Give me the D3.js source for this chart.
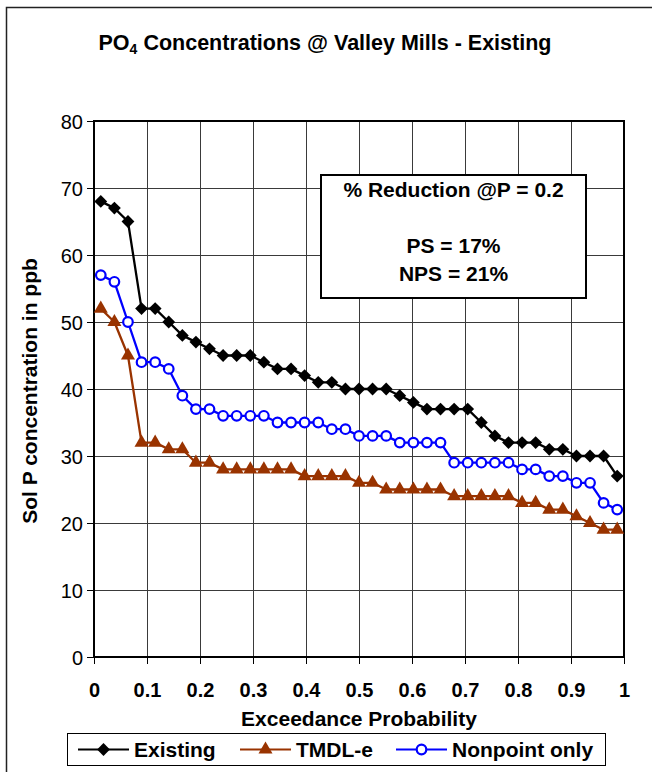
<!DOCTYPE html>
<html>
<head>
<meta charset="utf-8">
<script src="https://cdn.jsdelivr.net/npm/d3@7/dist/d3.min.js"></script>
<style>
  html, body { margin: 0; padding: 0; background: #fff; }
  svg { display: block; font-family: "Liberation Sans", Arial, sans-serif; }
</style>
</head>
<body>
<svg id="chart" width="652" height="772"></svg>
<script>
// Exceedance probability of each ranked sample (39 ranks)
const probability = [0.0128, 0.0385, 0.0641, 0.0897, 0.1154, 0.1410, 0.1667, 0.1923, 0.2179, 0.2436,
  0.2692, 0.2949, 0.3205, 0.3462, 0.3718, 0.3974, 0.4231, 0.4487, 0.4744, 0.5000,
  0.5256, 0.5513, 0.5769, 0.6026, 0.6282, 0.6538, 0.6795, 0.7051, 0.7308, 0.7564,
  0.7821, 0.8077, 0.8333, 0.8590, 0.8846, 0.9103, 0.9359, 0.9615, 0.9872];

// Soluble P concentration (ppb)
const existing = [68, 67, 65, 52, 52, 50, 48, 47, 46, 45, 45, 45, 44, 43, 43, 42, 41, 41, 40, 40,
  40, 40, 39, 38, 37, 37, 37, 37, 35, 33, 32, 32, 32, 31, 31, 30, 30, 30, 27];
const tmdlE = [52, 50, 45, 32, 32, 31, 31, 29, 29, 28, 28, 28, 28, 28, 28, 27, 27, 27, 27, 26,
  26, 25, 25, 25, 25, 25, 24, 24, 24, 24, 24, 23, 23, 22, 22, 21, 20, 19, 19];
const nonpointOnly = [57, 56, 50, 44, 44, 43, 39, 37, 37, 36, 36, 36, 36, 35, 35, 35, 35, 34, 34, 33,
  33, 33, 32, 32, 32, 32, 29, 29, 29, 29, 29, 28, 28, 27, 27, 26, 26, 23, 22];

const seriesNames = ["Existing", "TMDL-e", "Nonpoint only"];
const xTicks = [0, 0.1, 0.2, 0.3, 0.4, 0.5, 0.6, 0.7, 0.8, 0.9, 1];
const yTicks = [0, 10, 20, 30, 40, 50, 60, 70, 80];
const noteLines = ["% Reduction @P = 0.2", "", "PS = 17%", "NPS = 21%"];

const svg = d3.select("#chart");
const W = 652, H = 772;
const plot = { left: 94, right: 624, top: 121, bottom: 657 };

const x = d3.scaleLinear().domain([0, 1]).range([plot.left, plot.right]);
const y = d3.scaleLinear().domain([0, 80]).range([plot.bottom, plot.top]);

// chart area frame
svg.append("rect").attr("x", 6.5).attr("y", 7.5).attr("width", W + 20).attr("height", H + 20)
  .attr("fill", "#fff").attr("stroke", "#222").attr("stroke-width", 1.5);

// title
const title = svg.append("text").attr("x", 325).attr("y", 50).attr("text-anchor", "middle")
  .attr("font-size", 21.5).attr("font-weight", "bold").attr("fill", "#000");
title.append("tspan").text("PO");
title.append("tspan").attr("font-size", 14).attr("dy", 4).text("4");
title.append("tspan").attr("dy", -4).text(" Concentrations @ Valley Mills - Existing");

// gridlines
const grid = svg.append("g");
grid.selectAll("line.h").data(yTicks).join("line")
  .attr("x1", plot.left).attr("x2", plot.right)
  .attr("y1", d => Math.round(y(d)) + 0.5).attr("y2", d => Math.round(y(d)) + 0.5)
  .attr("stroke", "#3a3a3a").attr("stroke-width", 1);
grid.selectAll("line.v").data(xTicks).join("line")
  .attr("y1", plot.top).attr("y2", plot.bottom)
  .attr("x1", d => Math.round(x(d)) + 0.5).attr("x2", d => Math.round(x(d)) + 0.5)
  .attr("stroke", "#3a3a3a").attr("stroke-width", 1);

// axes
const yAxis = d3.axisLeft(y).tickValues(yTicks).tickSize(7).tickPadding(4).tickFormat(d3.format("d"));
const gy = svg.append("g").attr("transform", `translate(${plot.left},0)`).call(yAxis);
gy.select(".domain").remove();
gy.selectAll("line").attr("stroke", "#000");
gy.selectAll("text").attr("font-size", 20).attr("font-family", "Liberation Sans, Arial, sans-serif")
  .attr("fill", "#000").attr("dy", "0.36em");

const xAxis = d3.axisBottom(x).tickValues(xTicks).tickSize(7).tickPadding(0)
  .tickFormat(d => d === 0 || d === 1 ? String(d) : d3.format(".1f")(d));
const gx = svg.append("g").attr("transform", `translate(0,${plot.bottom})`).call(xAxis);
gx.select(".domain").remove();
gx.selectAll("line").attr("stroke", "#000");
gx.selectAll("text").attr("font-size", 20).attr("font-weight", "bold")
  .attr("font-family", "Liberation Sans, Arial, sans-serif").attr("fill", "#000")
  .attr("y", 40).attr("dy", 0);

// plot border
svg.append("rect").attr("x", plot.left).attr("y", plot.top)
  .attr("width", plot.right - plot.left).attr("height", plot.bottom - plot.top)
  .attr("fill", "none").attr("stroke", "#000").attr("stroke-width", 2);

// axis titles
svg.append("text").attr("x", (plot.left + plot.right) / 2).attr("y", 726).attr("text-anchor", "middle")
  .attr("font-size", 21).attr("font-weight", "bold").text("Exceedance Probability");
svg.append("text").attr("transform", `translate(37,${(plot.top + plot.bottom) / 2 + 2}) rotate(-90)`)
  .attr("text-anchor", "middle").attr("font-size", 21).attr("font-weight", "bold")
  .text("Sol P concentration in ppb");

// marker shapes
const diamond = d3.symbol().type(d3.symbolDiamond2).size(105)();
const triangle = d3.symbol().type(d3.symbolTriangle).size(85)();

const series = [
  { name: seriesNames[0], values: existing, color: "#000000", marker: "diamond" },
  { name: seriesNames[1], values: tmdlE, color: "#993300", marker: "triangle" },
  { name: seriesNames[2], values: nonpointOnly, color: "#0000FF", marker: "circle" }
];

function drawMarker(g, s) {
  if (s.marker === "circle") {
    g.append("circle").attr("r", 4.8).attr("fill", "#fff").attr("stroke", s.color).attr("stroke-width", 2.2);
  } else {
    g.append("path").attr("d", s.marker === "diamond" ? diamond : triangle).attr("fill", s.color);
  }
}

const line = d3.line().x(d => x(d[0])).y(d => y(d[1]));
series.forEach(s => {
  const pts = probability.map((p, i) => [p, s.values[i]]);
  const g = svg.append("g");
  g.append("path").attr("d", line(pts)).attr("fill", "none").attr("stroke", s.color)
    .attr("stroke-width", 2.3).attr("stroke-linejoin", "round");
  pts.forEach(p => {
    const m = g.append("g").attr("transform", `translate(${x(p[0])},${y(p[1])})`);
    drawMarker(m, s);
  });
});

// annotation box
svg.append("rect").attr("x", 321).attr("y", 175).attr("width", 265).attr("height", 123)
  .attr("fill", "#fff").attr("stroke", "#000").attr("stroke-width", 2);
const noteY = [197, 0, 253, 281];
noteLines.forEach((t, i) => {
  if (!t) return;
  svg.append("text").attr("x", 453.5).attr("y", noteY[i]).attr("text-anchor", "middle")
    .attr("font-size", 21).attr("font-weight", "bold").text(t);
});

// legend
svg.append("rect").attr("x", 67.5).attr("y", 733.5).attr("width", 538).attr("height", 32)
  .attr("fill", "#fff").attr("stroke", "#000").attr("stroke-width", 1);
const legendX = [78, 240, 396];
series.forEach((s, i) => {
  const g = svg.append("g").attr("transform", `translate(${legendX[i]},749.5)`);
  g.append("line").attr("x1", 0).attr("x2", 51).attr("stroke", s.color).attr("stroke-width", 2);
  const m = g.append("g").attr("transform", "translate(25.5,0)");
  drawMarker(m, s);
  g.append("text").attr("x", 56).attr("y", 7.5).attr("font-size", 21).attr("font-weight", "bold").text(s.name);
});
</script>
</body>
</html>
